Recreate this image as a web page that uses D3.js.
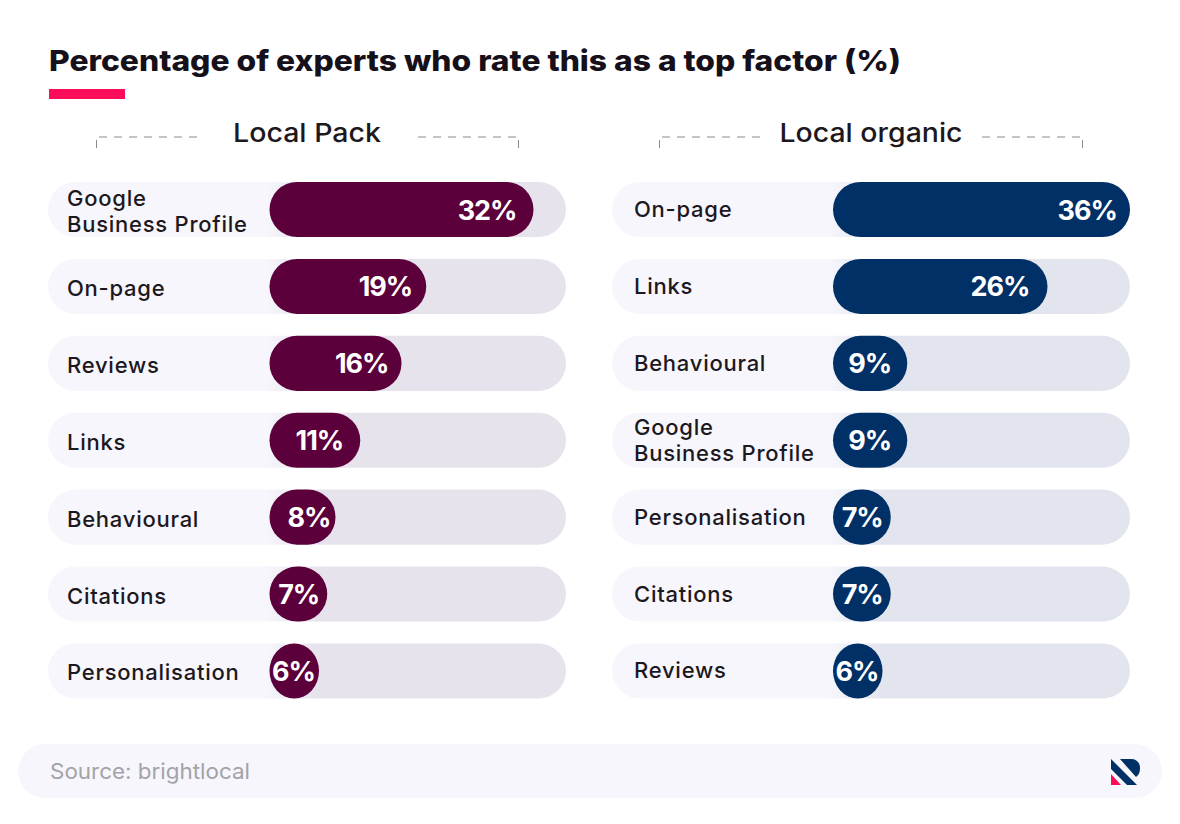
<!DOCTYPE html>
<html>
<head>
<meta charset="utf-8">
<script src="https://cdn.jsdelivr.net/npm/d3@7"></script>
<style>
  html, body { margin: 0; padding: 0; background: #fff; }
  svg { display: block; }
  text { font-family: Inter, "Open Sans", sans-serif; }
</style>
</head>
<body>
<div id="chart"></div>
<script>
// Values
var packLabels = ["Google\nBusiness Profile", "On-page", "Reviews", "Links", "Behavioural", "Citations", "Personalisation"]
var packValues = [32, 19, 16, 11, 8, 7, 6]
var organicLabels = ["On-page", "Links", "Behavioural", "Google\nBusiness Profile", "Personalisation", "Citations", "Reviews"]
var organicValues = [36, 26, 9, 9, 7, 7, 6]

var width = 1180, height = 824

var svg = d3.select("#chart").append("svg")
  .attr("width", width)
  .attr("height", height)

var defs = svg.append("defs")

/* Title */
svg.append("text")
  .attr("x", 49).attr("y", 71)
  .attr("font-size", 28.5)
  .attr("font-weight", 800)
  .attr("fill", "#15101a")
  .attr("textLength", 852)
  .attr("lengthAdjust", "spacingAndGlyphs")
  .text("Percentage of experts who rate this as a top factor (%)")

svg.append("rect")
  .attr("x", 49).attr("y", 89)
  .attr("width", 76).attr("height", 10)
  .attr("fill", "#fb0d5a")

// gap between the value and the bar end, the original is not consistent about it
var valueInset = { 36: 13, 32: 17, 26: 18, 19: 14, 16: 13, 11: 17, 9: 16, 8: 5, 7: 8, 6: 4 }

/* One panel of bars */
function drawPanel(id, opts) {
  var g = svg.append("g").attr("class", id)

  var x = d3.scaleLinear().domain([0, 36]).range([opts.barLeft, opts.barLeft + 297])
  var y = d3.scaleBand().domain(d3.range(opts.values.length)).range([182, 698.5]).paddingInner(0.284)
  var h = y.bandwidth()

  // track fades from pale to tinted, the change is hidden under the bars
  var grad = defs.append("linearGradient")
    .attr("id", id + "-track")
    .attr("gradientUnits", "userSpaceOnUse")
    .attr("x1", opts.trackLeft).attr("x2", opts.trackRight)
    .attr("y1", 0).attr("y2", 0)
  grad.append("stop").attr("offset", 0.42).attr("stop-color", "#f6f6fc")
  grad.append("stop").attr("offset", 0.52).attr("stop-color", opts.tint)

  /* Header with dashed brackets */
  g.append("text")
    .attr("x", opts.headX).attr("y", 142)
    .attr("text-anchor", "middle")
    .attr("font-size", 26)
    .attr("font-weight", 500)
    .attr("fill", "#1d1820")
    .attr("textLength", opts.headW)
    .attr("lengthAdjust", "spacingAndGlyphs")
    .text(opts.head)

  var bracket = g.append("g")
    .attr("fill", "none")
    .attr("stroke", "#8a8a8e")
    .attr("stroke-width", 1)
  opts.dashes.forEach(function (d) {
    bracket.append("path")
      .attr("d", "M" + d[0] + ",137H" + d[1])
      .attr("stroke-dasharray", "8 7")
    bracket.append("path").attr("d", "M" + d[2] + ",140V148")
  })

  var rows = g.selectAll("g.row")
    .data(opts.values)
    .join("g")
    .attr("class", "row")

  rows.append("rect")
    .attr("x", opts.trackLeft)
    .attr("y", (d, i) => y(i))
    .attr("width", opts.trackRight - opts.trackLeft)
    .attr("height", h)
    .attr("rx", h / 2)
    .attr("fill", "url(#" + id + "-track)")

  rows.append("rect")
    .attr("x", x(0))
    .attr("y", (d, i) => y(i))
    .attr("width", d => x(d) - x(0))
    .attr("height", h)
    .attr("rx", h / 2)
    .attr("fill", opts.color)

  rows.append("text")
    .attr("x", d => x(d) - valueInset[d])
    .attr("y", (d, i) => y(i) + h / 2 + 10)
    .attr("text-anchor", "end")
    .attr("font-size", 27)
    .attr("font-weight", 700)
    .attr("letter-spacing", -1)
    .attr("fill", "#fff")
    .text(d => d + "%")

  rows.each(function (d, i) {
    var lines = opts.labels[i].split("\n")
    var t = d3.select(this).append("text")
      .attr("font-size", 22)
      .attr("font-weight", 500)
      .attr("letter-spacing", 0.75)
      .attr("fill", "#1d1820")
    lines.forEach(function (line, j) {
      var cy = y(i) + h / 2 + opts.labelShift + 7.5
      t.append("tspan")
        .attr("x", opts.labelX)
        .attr("y", lines.length > 1 ? cy + (j === 0 ? -13 : 13) : cy)
        .text(line)
    })
  })
}

drawPanel("pack", {
  labels: packLabels, values: packValues, color: "#5c003c", tint: "#e7e3ec",
  barLeft: 269.5, trackLeft: 48, trackRight: 566, labelX: 67, labelShift: 2,
  head: "Local Pack", headX: 307, headW: 148,
  dashes: [[99, 197, 96.5], [418, 516, 518.5]]
})

drawPanel("organic", {
  labels: organicLabels, values: organicValues, color: "#003066", tint: "#e2e5ee",
  barLeft: 833, trackLeft: 612, trackRight: 1130, labelX: 634, labelShift: 0,
  head: "Local organic", headX: 871, headW: 183,
  dashes: [[662, 760, 659.5], [982, 1080, 1082.5]]
})

/* Source strip */
svg.append("rect")
  .attr("x", 18).attr("y", 744)
  .attr("width", 1144).attr("height", 54)
  .attr("rx", 27)
  .attr("fill", "#f6f6fc")

svg.append("text")
  .attr("x", 50).attr("y", 779)
  .attr("font-size", 21.5)
  .attr("fill", "#a3a3a8")
  .attr("textLength", 200)
  .attr("lengthAdjust", "spacingAndGlyphs")
  .text("Source: brightlocal")

/* Logo */
var logo = svg.append("g").attr("transform", "translate(1111,757)")
logo.append("path").attr("fill", "#003066").attr("d", "M0,2L26,28H16L0,12Z")
logo.append("path").attr("fill", "#003066").attr("d", "M9,2H20C26,2 29,6 29,11C29,15 28,18 25,20Z")
logo.append("path").attr("fill", "#fb0d5a").attr("d", "M0,17L10,28H0Z")
</script>
</body>
</html>
